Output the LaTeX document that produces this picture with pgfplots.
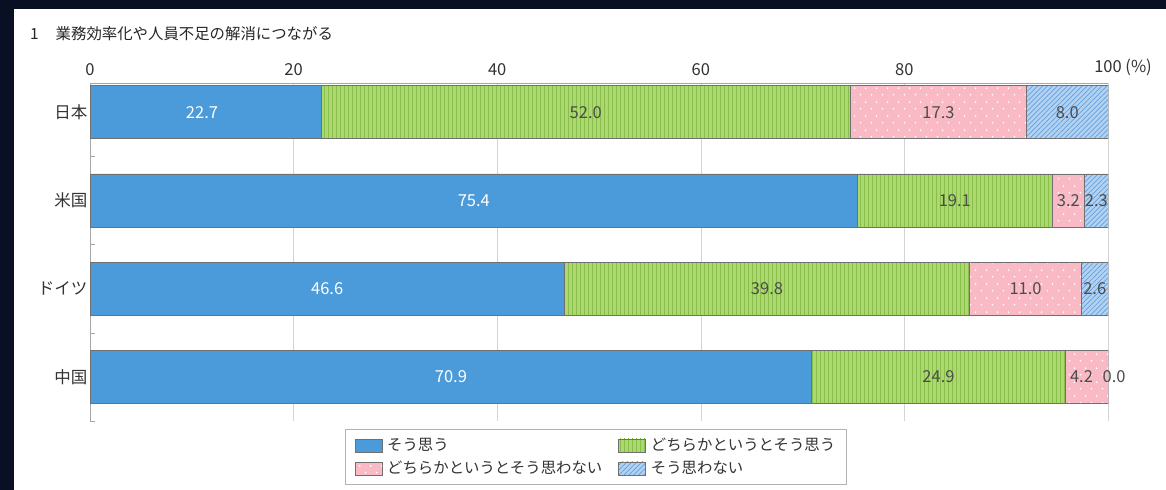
\documentclass[border=0pt]{standalone}
\usepackage{fontspec}
\setmainfont{Noto Sans CJK JP}
\usepackage{pgfplots}
\pgfplotsset{compat=1.18}
\usetikzlibrary{patterns.meta}

\definecolor{bg}{HTML}{0A1024}
\definecolor{cBlue}{HTML}{4B9BDA}
\definecolor{cGreen}{HTML}{ACD86F}
\definecolor{cGreenL}{HTML}{88BE4C}
\definecolor{cPink}{HTML}{F9BAC6}
\definecolor{cLB}{HTML}{B3D2F2}
\definecolor{cLBL}{HTML}{5E9FE0}
\definecolor{cEdge}{HTML}{707070}
\definecolor{cText}{HTML}{333333}
\definecolor{cGrid}{HTML}{D4D4D4}

\tikzdeclarepattern{
  name=pinkdots,
  type=uncolored,
  bounding box={(0bp,0bp) and (11bp,14bp)},
  tile size={(11bp,14bp)},
  code={
    \fill (2.75bp,3.5bp) circle (1bp);
    \fill (8.25bp,10.5bp) circle (1bp);
  }
}

\begin{document}
\begin{tikzpicture}
\fill[bg] (0,0) rectangle (1166bp,-490bp);
\fill[white] (14bp,-9bp) rectangle (1166bp,-490bp);
\node[anchor=west, inner sep=0pt, font=\fontsize{15.4bp}{17bp}\selectfont, text=black!85] at (30bp,-34bp) {1\hspace{17bp}業務効率化や人員不足の解消につながる};

\begin{axis}[
  at={(90bp,-421bp)}, anchor=south west,
  scale only axis, width=1018bp, height=338bp,
  xbar stacked, bar width=0.6,
  xmin=0, xmax=100, ymin=-0.5, ymax=3.33,
  axis x line=top, axis y line=left,
  axis line style={-, draw=gray!70},
  xtick={0,20,40,60,80,100},
  xticklabels={0,20,40,60,80,{100\rlap{ (\%)}}},
  xticklabel style={yshift=4bp},
  xmajorgrids, major grid style={cGrid},
  ytick={0,1,2,3},
  yticklabels={中国,ドイツ,米国,日本},
  yticklabel style={xshift=1bp},
  minor ytick={-0.5,0.5,1.5,2.5},
  major tick length=0pt, minor tick length=5bp,
  tick align=inside,
  minor tick style={draw=gray!70},
  tick label style={font=\fontsize{16.5bp}{18bp}\selectfont, text=cText},
  legend columns=2,
  legend cell align=left,
  legend image code/.code={\draw[#1] (0bp,-6.5bp) rectangle (27bp,6.5bp);},
  legend style={at={(0.497,-0.024)}, anchor=north, draw=gray!60,
    font=\fontsize{15.4bp}{17bp}\selectfont, text=cText,
    inner xsep=9bp, inner ysep=7bp, row sep=5bp,
    nodes={inner sep=2bp},
    /tikz/column 1/.style={column sep=3bp},
    /tikz/column 3/.style={column sep=3bp},
    /tikz/column 2/.style={column sep=14bp}},
]
\addplot[fill=cBlue, draw=cEdge, line width=0.6bp] coordinates {(22.7,3) (75.4,2) (46.6,1) (70.9,0)};
\addplot[fill=cGreen, draw=cEdge, line width=0.6bp, postaction={pattern={Lines[angle=90,distance=4bp,line width=0.7bp]}, pattern color=cGreenL}] coordinates {(52.0,3) (19.1,2) (39.8,1) (24.9,0)};
\addplot[fill=cPink, draw=cEdge, line width=0.6bp, postaction={pattern=pinkdots, pattern color=white}] coordinates {(17.3,3) (3.2,2) (11.0,1) (4.2,0)};
\addplot[fill=cLB, draw=cEdge, line width=0.6bp, postaction={pattern={Lines[angle=45,distance=3.5bp,line width=0.7bp]}, pattern color=cLBL}] coordinates {(8.0,3) (2.3,2) (2.6,1) (0.0,0)};
\legend{そう思う,どちらかというとそう思う,どちらかというとそう思わない,そう思わない}
\end{axis}

\begin{axis}[
  at={(90bp,-421bp)}, anchor=south west,
  scale only axis, width=1018bp, height=338bp,
  xmin=0, xmax=100, ymin=-0.5, ymax=3.33,
  hide axis, clip=false,
]
\addplot[draw=none, mark=none, nodes near coords, point meta=explicit symbolic,
  nodes near coords style={anchor=center, text=white, font=\fontsize{16.5bp}{18bp}\selectfont}]
  table[meta=l] {
x y l
11.0 3 22.7
37.7 2 75.4
23.3 1 46.6
35.45 0 70.9
};
\addplot[draw=none, mark=none, nodes near coords, point meta=explicit symbolic,
  nodes near coords style={anchor=center, text=black!70, font=\fontsize{16.5bp}{18bp}\selectfont}]
  table[meta=l] {
x y l
48.7 3 52.0
83.35 3 17.3
96.0 3 8.0
84.95 2 19.1
96.1 2 3.2
98.85 2 2.3
66.5 1 39.8
91.9 1 11.0
98.7 1 2.6
83.35 0 24.9
97.4 0 4.2
100.6 0 0.0
};
\end{axis}
\end{tikzpicture}
\end{document}
